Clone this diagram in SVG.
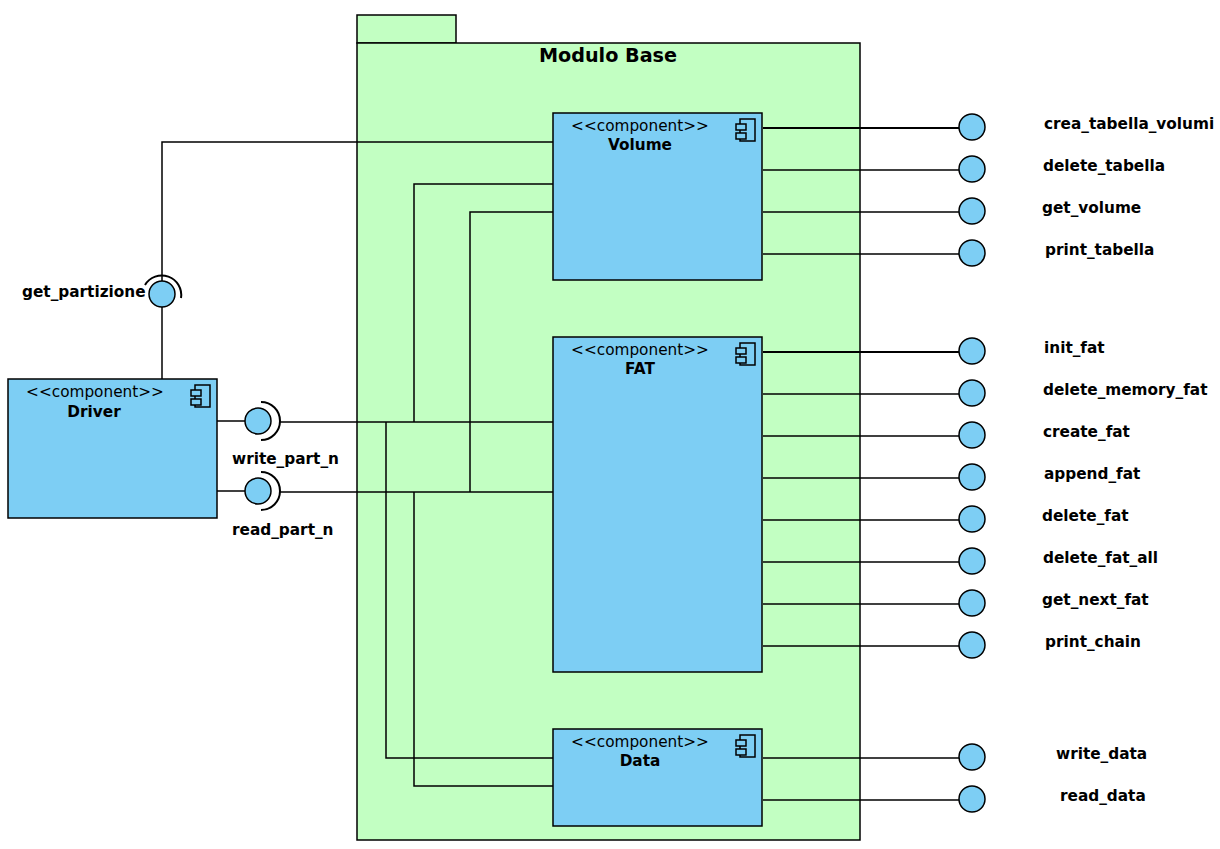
<svg xmlns="http://www.w3.org/2000/svg" width="1220" height="849" viewBox="0 0 1220 849">
<style>
text{font-family:"DejaVu Sans","Liberation Sans",sans-serif;font-size:15.3px;fill:#000}
.b{font-weight:bold}
.c{text-anchor:middle}
.comp{fill:#7DCEF4;stroke:#000;stroke-width:1.5}
.iconf{fill:#7DCEF4;stroke:#000;stroke-width:1.5}
.pkg{fill:#C2FFC2;stroke:#000;stroke-width:1.5}
.ln{fill:none;stroke:#000;stroke-width:1.5}
.lol{fill:#7DCEF4;stroke:#000;stroke-width:1.5}
.sock{fill:none;stroke:#000;stroke-width:2}
</style>
<defs>
<g id="cicon">
<rect class="iconf" x="-22" y="6" width="15" height="22"/>
<rect class="iconf" x="-26" y="11" width="10" height="6"/>
<rect class="iconf" x="-26" y="20" width="10" height="6"/>
</g>
</defs>

<g id="modulo_base">
<rect class="pkg" x="357" y="15" width="99" height="28"/>
<rect class="pkg" x="357" y="43" width="503" height="797"/>
<text class="b c" x="608" y="62" style="font-size:19.2px">Modulo Base</text>
</g>

<g id="connectors">
<polyline class="ln" points="553,142 162,142 162,281"/>
<line class="ln" x1="162" y1="307" x2="162" y2="379"/>
<line class="ln" x1="217" y1="421" x2="245" y2="421"/>
<line class="ln" x1="280" y1="422" x2="553" y2="422"/>
<polyline class="ln" points="414,422 414,184 553,184"/>
<polyline class="ln" points="386,422 386,758 553,758"/>
<line class="ln" x1="217" y1="491" x2="245" y2="491"/>
<line class="ln" x1="280" y1="492" x2="553" y2="492"/>
<polyline class="ln" points="470,492 470,212 553,212"/>
<polyline class="ln" points="414,492 414,786 553,786"/>
<line class="ln" x1="763" y1="128" x2="959" y2="128" style="stroke-width:2"/>
<line class="ln" x1="763" y1="170" x2="959" y2="170"/>
<line class="ln" x1="763" y1="212" x2="959" y2="212"/>
<line class="ln" x1="763" y1="254" x2="959" y2="254"/>
<line class="ln" x1="763" y1="352" x2="959" y2="352" style="stroke-width:2"/>
<line class="ln" x1="763" y1="394" x2="959" y2="394"/>
<line class="ln" x1="763" y1="436" x2="959" y2="436"/>
<line class="ln" x1="763" y1="478" x2="959" y2="478"/>
<line class="ln" x1="763" y1="520" x2="959" y2="520"/>
<line class="ln" x1="763" y1="562" x2="959" y2="562"/>
<line class="ln" x1="763" y1="604" x2="959" y2="604"/>
<line class="ln" x1="763" y1="646" x2="959" y2="646"/>
<line class="ln" x1="763" y1="758" x2="959" y2="758"/>
<line class="ln" x1="763" y1="800" x2="959" y2="800"/>
</g>

<g id="volume">
<rect class="comp" x="553" y="113" width="209" height="167"/>
<use href="#cicon" x="762" y="113"/>
<text class="c" x="640" y="131">&lt;&lt;component&gt;&gt;</text>
<text class="b c" x="640" y="150">Volume</text>
</g>

<g id="fat">
<rect class="comp" x="553" y="337" width="209" height="335"/>
<use href="#cicon" x="762" y="337"/>
<text class="c" x="640" y="355">&lt;&lt;component&gt;&gt;</text>
<text class="b c" x="640" y="374">FAT</text>
</g>

<g id="data">
<rect class="comp" x="553" y="729" width="209" height="97"/>
<use href="#cicon" x="762" y="729"/>
<text class="c" x="640" y="747">&lt;&lt;component&gt;&gt;</text>
<text class="b c" x="640" y="766">Data</text>
</g>

<g id="driver">
<rect class="comp" x="8" y="379" width="209" height="139"/>
<use href="#cicon" x="217" y="379"/>
<text class="c" x="95" y="397">&lt;&lt;component&gt;&gt;</text>
<text class="b c" x="94" y="417">Driver</text>
</g>

<g id="get_partizione">
<path class="sock" d="M 145 285 A 19.5 19.5 0 0 1 181 298"/>
<circle class="lol" cx="162" cy="294" r="13"/>
<text class="b" x="22" y="297">get_partizione</text>
</g>

<g id="write_part_n">
<path class="sock" d="M 261 402 A 19 19 0 0 1 261 440"/>
<circle class="lol" cx="258" cy="421" r="13"/>
<text class="b" x="232" y="464">write_part_n</text>
</g>

<g id="read_part_n">
<path class="sock" d="M 261 472 A 19 19 0 0 1 261 510"/>
<circle class="lol" cx="258" cy="491" r="13"/>
<text class="b" x="232" y="535">read_part_n</text>
</g>

<g id="crea_tabella_volumi"><circle class="lol" cx="972" cy="127" r="13"/><text class="b" x="1044" y="129">crea_tabella_volumi</text></g>
<g id="delete_tabella"><circle class="lol" cx="972" cy="169" r="13"/><text class="b" x="1043" y="171">delete_tabella</text></g>
<g id="get_volume"><circle class="lol" cx="972" cy="211" r="13"/><text class="b" x="1042" y="213">get_volume</text></g>
<g id="print_tabella"><circle class="lol" cx="972" cy="253" r="13"/><text class="b" x="1045" y="255">print_tabella</text></g>

<g id="init_fat"><circle class="lol" cx="972" cy="351" r="13"/><text class="b" x="1044" y="353">init_fat</text></g>
<g id="delete_memory_fat"><circle class="lol" cx="972" cy="393" r="13"/><text class="b" x="1043" y="395">delete_memory_fat</text></g>
<g id="create_fat"><circle class="lol" cx="972" cy="435" r="13"/><text class="b" x="1043" y="437">create_fat</text></g>
<g id="append_fat"><circle class="lol" cx="972" cy="477" r="13"/><text class="b" x="1044" y="479">append_fat</text></g>
<g id="delete_fat"><circle class="lol" cx="972" cy="519" r="13"/><text class="b" x="1042" y="521">delete_fat</text></g>
<g id="delete_fat_all"><circle class="lol" cx="972" cy="561" r="13"/><text class="b" x="1043" y="563">delete_fat_all</text></g>
<g id="get_next_fat"><circle class="lol" cx="972" cy="603" r="13"/><text class="b" x="1042" y="605">get_next_fat</text></g>
<g id="print_chain"><circle class="lol" cx="972" cy="645" r="13"/><text class="b" x="1045" y="647">print_chain</text></g>

<g id="write_data"><circle class="lol" cx="972" cy="757" r="13"/><text class="b" x="1056" y="759">write_data</text></g>
<g id="read_data"><circle class="lol" cx="972" cy="799" r="13"/><text class="b" x="1060" y="801">read_data</text></g>
</svg>
